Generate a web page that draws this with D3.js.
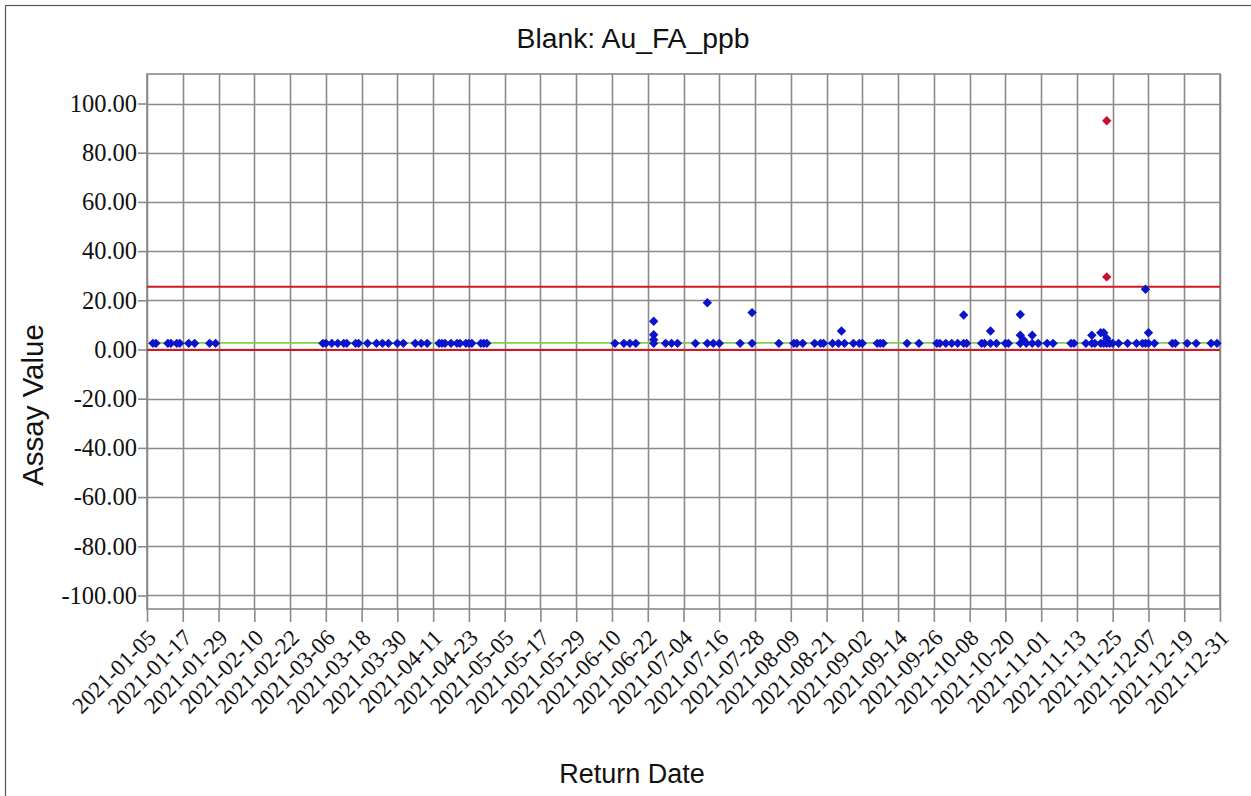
<!DOCTYPE html>
<html>
<head>
<meta charset="utf-8">
<script src="https://cdn.jsdelivr.net/npm/d3@7"></script>
<style>
  html, body { margin: 0; padding: 0; background: #fff; }
  svg { display: block; }
</style>
</head>
<body>
<svg id="chart" width="1251" height="796"></svg>
<script>
// ---------- data ----------
const chartTitle = "Blank: Au_FA_ppb";
const xAxisTitle = "Return Date";
const yAxisTitle = "Assay Value";

const upperLimit = 25.5;
const lowerLimit = -0.2;
const centreLine = 2.7;

const yTickValues = [100, 80, 60, 40, 20, 0, -20, -40, -60, -80, -100];
const xTickLabels = ["2021-01-05","2021-01-17","2021-01-29","2021-02-10","2021-02-22","2021-03-06",
  "2021-03-18","2021-03-30","2021-04-11","2021-04-23","2021-05-05","2021-05-17","2021-05-29",
  "2021-06-10","2021-06-22","2021-07-04","2021-07-16","2021-07-28","2021-08-09","2021-08-21",
  "2021-09-02","2021-09-14","2021-09-26","2021-10-08","2021-10-20","2021-11-01","2021-11-13",
  "2021-11-25","2021-12-07","2021-12-19","2021-12-31"];

const sampleDates = [
  "2021-01-07","2021-01-08","2021-01-12","2021-01-13","2021-01-15","2021-01-16","2021-01-19","2021-01-21","2021-01-26","2021-01-28",
  "2021-03-05","2021-03-06","2021-03-08","2021-03-10","2021-03-12","2021-03-13","2021-03-16","2021-03-17","2021-03-20","2021-03-23",
  "2021-03-25","2021-03-27","2021-03-30","2021-04-01","2021-04-05","2021-04-07","2021-04-09","2021-04-13","2021-04-14","2021-04-15",
  "2021-04-17","2021-04-19","2021-04-20","2021-04-22","2021-04-23","2021-04-24","2021-04-27","2021-04-28","2021-04-29",
  "2021-06-11","2021-06-14","2021-06-16","2021-06-18",
  "2021-06-24","2021-06-24","2021-06-24","2021-06-24",
  "2021-06-28","2021-06-30","2021-07-02","2021-07-08",
  "2021-07-12","2021-07-12","2021-07-14","2021-07-16",
  "2021-07-23","2021-07-27","2021-07-27",
  "2021-08-05","2021-08-10","2021-08-11","2021-08-13","2021-08-17","2021-08-19","2021-08-20","2021-08-23","2021-08-25",
  "2021-08-26","2021-08-27","2021-08-30","2021-09-01","2021-09-02","2021-09-07","2021-09-08","2021-09-09",
  "2021-09-17","2021-09-21","2021-09-27","2021-09-28","2021-09-30","2021-10-02","2021-10-04",
  "2021-10-06","2021-10-06","2021-10-07","2021-10-12","2021-10-13","2021-10-15","2021-10-15","2021-10-17","2021-10-20","2021-10-21",
  "2021-10-25","2021-10-25","2021-10-25","2021-10-26","2021-10-27","2021-10-29","2021-10-29","2021-10-31",
  "2021-11-03","2021-11-05","2021-11-11","2021-11-12",
  "2021-11-16","2021-11-18","2021-11-18","2021-11-19","2021-11-21","2021-11-21","2021-11-22","2021-11-22",
  "2021-11-23","2021-11-23","2021-11-23","2021-11-23","2021-11-24","2021-11-25","2021-11-27","2021-11-30",
  "2021-12-03","2021-12-05","2021-12-06","2021-12-06","2021-12-07","2021-12-07","2021-12-09",
  "2021-12-15","2021-12-16","2021-12-20","2021-12-23","2021-12-28","2021-12-30"
];
const sampleValues = [
  2.5,2.5,2.5,2.5,2.5,2.5,2.5,2.5,2.5,2.5,
  2.5,2.5,2.5,2.5,2.5,2.5,2.5,2.5,2.5,2.5,
  2.5,2.5,2.5,2.5,2.5,2.5,2.5,2.5,2.5,2.5,
  2.5,2.5,2.5,2.5,2.5,2.5,2.5,2.5,2.5,
  2.5,2.5,2.5,2.5,
  11.5,6.0,4.0,2.5,
  2.5,2.5,2.5,2.5,
  19.0,2.5,2.5,2.5,
  2.5,15.0,2.5,
  2.5,2.5,2.5,2.5,2.5,2.5,2.5,2.5,2.5,
  7.5,2.5,2.5,2.5,2.5,2.5,2.5,2.5,
  2.5,2.5,2.5,2.5,2.5,2.5,2.5,
  14.0,2.5,2.5,2.5,2.5,7.5,2.5,2.5,2.5,2.5,
  14.2,5.8,2.5,4.0,2.5,5.8,2.5,2.5,
  2.5,2.5,2.5,2.5,
  2.5,5.8,2.5,2.5,6.8,2.5,6.8,2.5,
  93.0,29.5,4.5,2.5,2.5,2.5,2.5,2.5,
  2.5,2.5,24.5,2.5,6.8,2.5,2.5,
  2.5,2.5,2.5,2.5,2.5,2.5
];

// ---------- layout ----------
const svg = d3.select("#chart");
const W = 1251, H = 796;
const plot = { left: 147, right: 1220, top: 74, bottom: 609 };
const parse = d3.utcParse("%Y-%m-%d");

const x = d3.scaleUtc()
  .domain([parse(xTickLabels[0]), parse(xTickLabels[xTickLabels.length - 1])])
  .range([plot.left, plot.right]);
const y = d3.scaleLinear().domain([-105.5, 112]).range([plot.bottom, plot.top]);

const gridColor = "#8a8a8a";

svg.append("rect").attr("x", 0).attr("y", 0).attr("width", W).attr("height", H).attr("fill", "#fff");
// outer frame (cropped at right/bottom)
svg.append("rect").attr("x", 5.5).attr("y", 5.5).attr("width", W + 20).attr("height", H + 20)
  .attr("fill", "none").attr("stroke", "#555").attr("stroke-width", 1.2);

// gridlines
const grid = svg.append("g");
grid.selectAll("line.v").data(xTickLabels).join("line")
  .attr("x1", d => Math.round(x(parse(d))) + 0.5).attr("x2", d => Math.round(x(parse(d))) + 0.5)
  .attr("y1", plot.top).attr("y2", plot.bottom)
  .attr("stroke", gridColor).attr("stroke-width", 1.6);
grid.selectAll("line.h").data(yTickValues).join("line")
  .attr("x1", plot.left).attr("x2", plot.right)
  .attr("y1", d => Math.round(y(d)) + 0.5).attr("y2", d => Math.round(y(d)) + 0.5)
  .attr("stroke", gridColor).attr("stroke-width", 1.6);
svg.append("rect").attr("x", plot.left).attr("y", plot.top)
  .attr("width", plot.right - plot.left).attr("height", plot.bottom - plot.top)
  .attr("fill", "none").attr("stroke", gridColor).attr("stroke-width", 1.6);

// y axis
const yAxis = svg.append("g").attr("transform", `translate(${plot.left},0)`)
  .call(d3.axisLeft(y).tickValues(yTickValues).tickSize(9).tickPadding(1)
    .tickFormat(v => v.toFixed(2)));
yAxis.select(".domain").remove();
yAxis.selectAll(".tick line").attr("stroke", gridColor).attr("stroke-width", 1.6);
yAxis.selectAll(".tick text").attr("font-family", "'Liberation Serif', 'Times New Roman', serif")
  .attr("font-size", 24.5).attr("fill", "#111");

// x axis
const xAxis = svg.append("g").attr("transform", `translate(0,${plot.bottom})`)
  .call(d3.axisBottom(x).tickValues(xTickLabels.map(parse)).tickSize(13)
    .tickFormat(d3.utcFormat("%Y-%m-%d")));
xAxis.select(".domain").remove();
xAxis.selectAll(".tick line").attr("stroke", gridColor).attr("stroke-width", 1.6);
xAxis.selectAll(".tick text")
  .attr("font-family", "'Liberation Serif', 'Times New Roman', serif")
  .attr("font-size", 23).attr("fill", "#111")
  .attr("text-anchor", "end")
  .attr("y", 0).attr("dy", 0)
  .attr("transform", "translate(10,30) rotate(-45)");

// limit lines
const limits = [
  { v: upperLimit, c: "#d01820", w: 2 },
  { v: lowerLimit, c: "#d01820", w: 2 },
  { v: centreLine, c: "#7fcf4a", w: 1.6 }
];
svg.append("g").selectAll("line").data(limits).join("line")
  .attr("x1", plot.left).attr("x2", plot.right)
  .attr("y1", d => y(d.v)).attr("y2", d => y(d.v))
  .attr("stroke", d => d.c).attr("stroke-width", d => d.w);

// points
const points = sampleDates.map((d, i) => ({ date: parse(d), value: sampleValues[i] }));
const diamond = d3.symbol().type(d3.symbolSquare).size(44);
svg.append("g").selectAll("path").data(points).join("path")
  .attr("d", diamond)
  .attr("transform", d => `translate(${x(d.date)},${y(d.value)}) rotate(45)`)
  .attr("fill", d => (d.value > upperLimit || d.value < lowerLimit) ? "#c8102e" : "#0a14c8");

// titles
svg.append("text").attr("x", 633).attr("y", 48).attr("text-anchor", "middle")
  .attr("font-family", "'Liberation Sans', Arial, sans-serif").attr("font-size", 27)
  .attr("textLength", 233).attr("lengthAdjust", "spacingAndGlyphs")
  .attr("fill", "#111").text(chartTitle);
svg.append("text").attr("x", 632).attr("y", 783).attr("text-anchor", "middle")
  .attr("font-family", "'Liberation Sans', Arial, sans-serif").attr("font-size", 27)
  .attr("fill", "#111").text(xAxisTitle);
svg.append("text").attr("transform", "translate(43,405) rotate(-90)").attr("text-anchor", "middle")
  .attr("font-family", "'Liberation Sans', Arial, sans-serif").attr("font-size", 29.5)
  .attr("fill", "#111").text(yAxisTitle);
</script>
</body>
</html>
